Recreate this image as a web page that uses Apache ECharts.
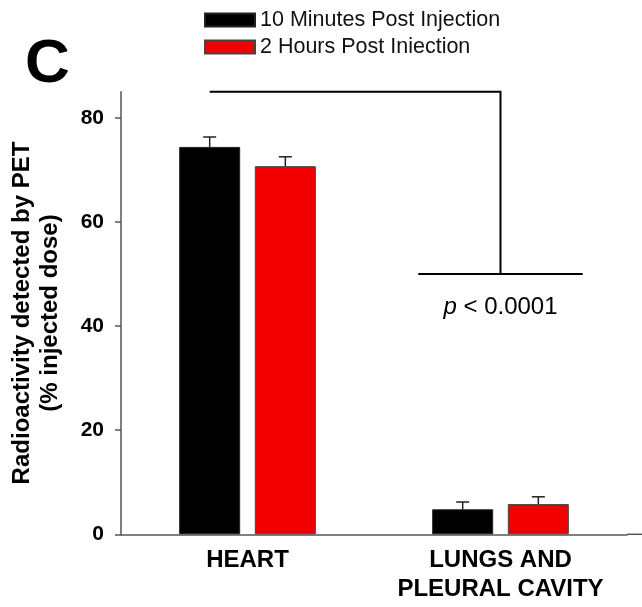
<!DOCTYPE html>
<html>
<head>
<meta charset="utf-8">
<script src="https://cdn.jsdelivr.net/npm/echarts@6/dist/echarts.min.js"></script>
<style>
  html, body { margin: 0; padding: 0; background: #fff; }
  #chart { width: 642px; height: 607px; }
</style>
</head>
<body>
<div id="chart"></div>
<script>
// Organs measured
const categories = ['HEART', 'LUNGS AND\nPLEURAL CAVITY'];
// Series names as printed in the key
const seriesNames = ['10 Minutes Post Injection', '2 Hours Post Iniection'];
// % injected dose (mean) and upper error (SEM)
const tenMinValues = [74.4, 4.8];
const tenMinErrors = [1.9, 1.4];
const twoHourValues = [70.7, 5.8];
const twoHourErrors = [1.8, 1.4];
// Y axis
const yTicks = [0, 20, 40, 60, 80];
const yMax = 85;
// Significance bracket: top level and lower level (% injected dose)
const bracketLevels = [85, 50];
const pLabel = 'p < 0.0001';

const FONT = 'Liberation Sans, Arial, Helvetica, sans-serif';
const BAR_W = 61;
const BAR_GAP = 0.24;
const HALF_STEP = (BAR_W + BAR_W * BAR_GAP) / 2;
const AXIS_COLOR = '#555';

const chart = echarts.init(document.getElementById('chart'), null, { renderer: 'canvas' });

function errorSeries(values, errors, sign) {
  return {
    type: 'custom',
    z: 5,
    silent: true,
    encode: { x: 0, y: 1 },
    data: values.map((v, i) => [i, v, errors[i]]),
    renderItem: function (params, api) {
      const base = api.coord([api.value(0), api.value(1)]);
      const top = api.coord([api.value(0), api.value(1) + api.value(2)]);
      const x = base[0] + sign * HALF_STEP;
      const style = { stroke: '#222', lineWidth: 1.5 };
      return {
        type: 'group',
        children: [
          { type: 'line', shape: { x1: x, y1: base[1], x2: x, y2: top[1] }, style: style },
          { type: 'line', shape: { x1: x - 6.5, y1: top[1], x2: x + 6.5, y2: top[1] }, style: style }
        ]
      };
    }
  };
}

// "p < 0.0001" with the p set in italics
const pParts = pLabel.split(' ');
const pRich = '{i|' + pParts[0] + '} ' + pParts.slice(1).join(' ');

const option = {
  animation: false,
  backgroundColor: '#fff',
  textStyle: { fontFamily: FONT },
  grid: { left: 120, right: 15, top: 91.7, bottom: 72.7, containLabel: false },
  legend: {
    orient: 'vertical',
    left: 199,
    top: 4,
    icon: 'rect',
    itemWidth: 50,
    itemHeight: 13,
    itemGap: 5,
    itemTextGap: 12,
    textStyle: { fontSize: 21.5, lineHeight: 21, color: '#111', fontFamily: FONT },
    data: seriesNames
  },
  xAxis: {
    type: 'category',
    data: categories,
    axisLine: { lineStyle: { color: AXIS_COLOR, width: 1.5 } },
    axisTick: { alignWithLabel: true, length: 6, lineStyle: { color: AXIS_COLOR, width: 1.5 } },
    axisLabel: {
      color: '#000', fontSize: 24, fontWeight: 'bold', fontFamily: FONT,
      lineHeight: 29, margin: 12, interval: 0
    },
    splitLine: { show: false }
  },
  yAxis: {
    type: 'value',
    min: 0,
    max: yMax,
    interval: 20,
    name: 'Radioactivity detected by PET\n(% injected dose)',
    nameLocation: 'middle',
    nameGap: 57,
    nameTextStyle: { color: '#000', fontSize: 24, fontWeight: 'bold', fontFamily: FONT, lineHeight: 28 },
    axisLine: { show: true, lineStyle: { color: AXIS_COLOR, width: 1.5 } },
    axisTick: { show: true, length: 6, customValues: yTicks, lineStyle: { color: AXIS_COLOR, width: 1.5 } },
    axisLabel: { color: '#000', fontSize: 21, fontWeight: 'bold', fontFamily: FONT, margin: 17, customValues: yTicks },
    splitLine: { show: false }
  },
  series: [
    {
      name: seriesNames[0],
      type: 'bar',
      barWidth: BAR_W,
      barGap: (BAR_GAP * 100) + '%',
      data: tenMinValues,
      itemStyle: { color: '#000', borderColor: '#222', borderWidth: 1 }
    },
    {
      name: seriesNames[1],
      type: 'bar',
      barWidth: BAR_W,
      barGap: (BAR_GAP * 100) + '%',
      data: twoHourValues,
      itemStyle: { color: '#f20000', borderColor: '#444', borderWidth: 1 }
    },
    errorSeries(tenMinValues, tenMinErrors, -1),
    errorSeries(twoHourValues, twoHourErrors, 1),
    {
      // significance bracket from the heart bars across to the lungs bars
      type: 'custom',
      z: 6,
      silent: true,
      encode: { x: 0, y: 2 },
      data: [[0, 1, bracketLevels[0], bracketLevels[1]]],
      renderItem: function (params, api) {
        const topStart = api.coord([api.value(0), api.value(2)]);
        const topEnd = api.coord([api.value(1), api.value(2)]);
        const low = api.coord([api.value(1), api.value(3)]);
        const band = api.size([1, 0])[0];
        const halfLow = band * 0.325;
        const style = { stroke: '#000', lineWidth: 2, fill: null };
        return {
          type: 'group',
          children: [
            {
              type: 'polyline',
              shape: { points: [[topStart[0] - HALF_STEP, topStart[1]], [topEnd[0], topEnd[1]], [low[0], low[1]]] },
              style: style
            },
            {
              type: 'line',
              shape: { x1: low[0] - halfLow, y1: low[1], x2: low[0] + halfLow, y2: low[1] },
              style: style
            },
            {
              type: 'text',
              x: low[0],
              y: low[1] + 33,
              style: {
                text: pRich,
                align: 'center',
                verticalAlign: 'middle',
                fill: '#000',
                font: '24px ' + FONT,
                rich: { i: { fontStyle: 'italic', fontSize: 24, fontFamily: FONT } }
              }
            }
          ]
        };
      }
    }
  ],
  graphic: [
    {
      type: 'text',
      left: 25,
      top: 34,
      style: { text: 'C', font: 'bold 62px ' + FONT, fill: '#000' }
    },
    {
      // x-axis line runs on past the last category to the edge
      type: 'line',
      shape: { x1: 627, y1: 534.3, x2: 642, y2: 534.3 },
      style: { stroke: AXIS_COLOR, lineWidth: 1.5 }
    }
  ]
};

chart.setOption(option);
</script>
</body>
</html>
